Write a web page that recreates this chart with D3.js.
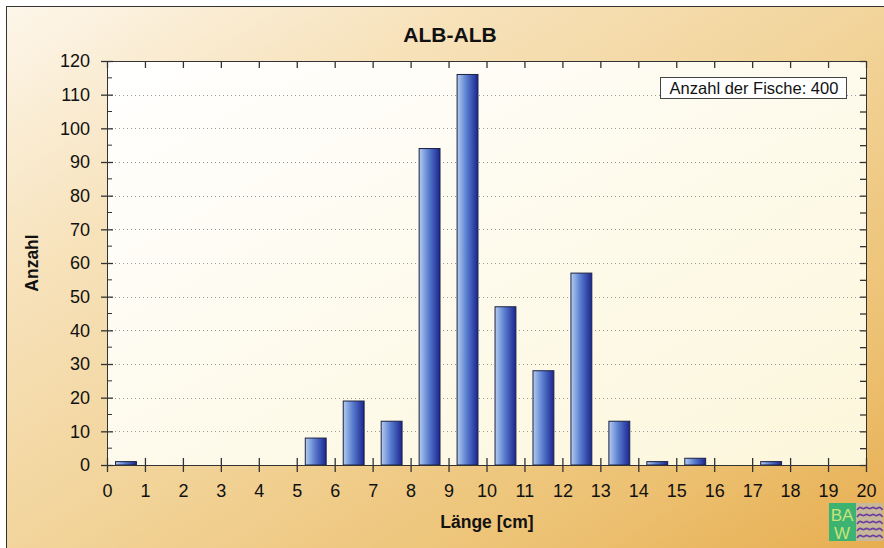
<!DOCTYPE html>
<html>
<head>
<meta charset="utf-8">
<script src="https://cdn.jsdelivr.net/npm/d3@7"></script>
<style>
body { margin: 0; background: #fff; }
svg text { font-family: "Liberation Sans", Arial, sans-serif; fill: #111; }
</style>
</head>
<body>
<div id="chart"></div>
<script>
let title = "ALB-ALB";
let lengths = [0.5, 5.5, 6.5, 7.5, 8.5, 9.5, 10.5, 11.5, 12.5, 13.5, 14.5, 15.5, 17.5];
let counts = [1, 8, 19, 13, 94, 116, 47, 28, 57, 13, 1, 2, 1];
let xTicks = d3.range(0, 21);
let yTicks = d3.range(0, 121, 10);
let legendText = "Anzahl der Fische: 400";

let width = 884, height = 548;
let plotLeft = 107, plotRight = 866, plotTop = 61, plotBottom = 465;

let svg = d3.select("#chart").append("svg")
    .attr("width", width)
    .attr("height", height);

let defs = svg.append("defs");
let bg = defs.append("linearGradient").attr("id", "bg")
    .attr("x1", "0").attr("y1", "0").attr("x2", "1").attr("y2", "1");
bg.append("stop").attr("offset", "0").attr("stop-color", "#fdf6ea");
bg.append("stop").attr("offset", "0.25").attr("stop-color", "#f7e2bb");
bg.append("stop").attr("offset", "0.5").attr("stop-color", "#f2d49a");
bg.append("stop").attr("offset", "0.8").attr("stop-color", "#ecc070");
bg.append("stop").attr("offset", "1").attr("stop-color", "#e6ab4c");

let plotBg = defs.append("linearGradient").attr("id", "plotbg")
    .attr("x1", "0").attr("y1", "0").attr("x2", "1").attr("y2", "1");
plotBg.append("stop").attr("offset", "0").attr("stop-color", "#ffffff");
plotBg.append("stop").attr("offset", "1").attr("stop-color", "#fcf6da");

let barGrad = defs.append("linearGradient").attr("id", "bar")
    .attr("x1", "0").attr("y1", "0").attr("x2", "1").attr("y2", "0");
barGrad.append("stop").attr("offset", "0").attr("stop-color", "#b4cdf0");
barGrad.append("stop").attr("offset", "0.45").attr("stop-color", "#5a7ed0");
barGrad.append("stop").attr("offset", "1").attr("stop-color", "#1a2590");

svg.append("rect")
    .attr("x", 6.5).attr("y", 6.5)
    .attr("width", width + 10).attr("height", height + 10)
    .attr("fill", "url(#bg)")
    .attr("stroke", "#333").attr("stroke-width", 1);

let x = d3.scaleLinear().domain([0, 20]).range([plotLeft, plotRight]);
let y = d3.scaleLinear().domain([0, 120]).range([plotBottom, plotTop]);

svg.append("rect")
    .attr("x", plotLeft).attr("y", plotTop)
    .attr("width", plotRight - plotLeft).attr("height", plotBottom - plotTop)
    .attr("fill", "url(#plotbg)");

// grid
svg.append("g").selectAll("line")
    .data(yTicks.filter(d => d > 0 && d < 120))
    .enter().append("line")
    .attr("x1", plotLeft).attr("x2", plotRight)
    .attr("y1", d => Math.round(y(d)) + 0.5).attr("y2", d => Math.round(y(d)) + 0.5)
    .attr("stroke", "#999").attr("stroke-dasharray", "1,3");

// bars
let bw = 0.55;
svg.append("g").selectAll("rect")
    .data(lengths)
    .enter().append("rect")
    .attr("x", d => x(d - bw / 2))
    .attr("y", (d, i) => y(counts[i]))
    .attr("width", x(bw) - x(0))
    .attr("height", (d, i) => y(0) - y(counts[i]))
    .attr("fill", "url(#bar)")
    .attr("stroke", "#1c2040").attr("stroke-width", 1);

// axes
let axisColor = "#333";
let bottomAxis = svg.append("g")
    .attr("transform", "translate(0," + plotBottom + ")")
    .call(d3.axisBottom(x).tickValues(xTicks).tickSize(7).tickPadding(12).tickSizeOuter(0));
bottomAxis.selectAll(".tick line").attr("y1", -7);
bottomAxis.selectAll("text").style("font-size", "18px");

let leftAxis = svg.append("g")
    .attr("transform", "translate(" + plotLeft + ",0)")
    .call(d3.axisLeft(y).tickValues(yTicks).tickSize(6).tickPadding(11).tickSizeOuter(0));
leftAxis.selectAll(".tick line").attr("x1", 6).attr("x2", -6);
leftAxis.selectAll("text").style("font-size", "18px");

// minor ticks on left
svg.append("g").selectAll("line")
    .data(d3.range(5, 120, 10))
    .enter().append("line")
    .attr("x1", plotLeft).attr("x2", plotLeft + 5)
    .attr("y1", d => y(d)).attr("y2", d => y(d))
    .attr("stroke", axisColor);

svg.append("g")
    .attr("transform", "translate(0," + plotTop + ")")
    .call(d3.axisTop(x).tickValues(xTicks).tickSize(-7).tickFormat("").tickSizeOuter(0));

svg.append("g")
    .attr("transform", "translate(" + plotRight + ",0)")
    .call(d3.axisRight(y).tickValues(d3.range(0, 121, 5)).tickSize(-6).tickFormat("").tickSizeOuter(0));

svg.selectAll(".domain, .tick line").attr("stroke", axisColor);
svg.selectAll(".tick line").attr("stroke-width", 1.3);

// legend box
let lg = svg.append("g");
lg.append("rect")
    .attr("x", 660.5).attr("y", 77.5)
    .attr("width", 186).attr("height", 21)
    .attr("fill", "#fff").attr("stroke", "#444");
lg.append("text")
    .attr("x", 754).attr("y", 94)
    .attr("text-anchor", "middle")
    .style("font-size", "16.5px")
    .text(legendText);

// titles
svg.append("text")
    .attr("x", 450).attr("y", 42)
    .attr("text-anchor", "middle")
    .style("font-size", "21px").style("font-weight", "bold")
    .text(title);

svg.append("text")
    .attr("x", 487).attr("y", 528)
    .attr("text-anchor", "middle")
    .style("font-size", "17.5px").style("font-weight", "bold")
    .text("Länge [cm]");

svg.append("text")
    .attr("transform", "translate(38," + ((plotTop + plotBottom) / 2) + ") rotate(-90)")
    .attr("text-anchor", "middle")
    .style("font-size", "17.5px").style("font-weight", "bold")
    .text("Anzahl");

// logo
let logo = svg.append("g").attr("transform", "translate(829,503)");
logo.append("rect").attr("width", 27).attr("height", 38).attr("fill", "#3cb371");
logo.append("rect").attr("x", 27).attr("width", 27).attr("height", 38).attr("fill", "#c8b89a");
logo.append("text").attr("x", 13).attr("y", 18).attr("text-anchor", "middle")
    .style("font-size", "17px").style("fill", "#c9e27a").text("BA");
logo.append("text").attr("x", 13).attr("y", 36).attr("text-anchor", "middle")
    .style("font-size", "17px").style("fill", "#c9e27a").text("W");
let wave = d3.line().curve(d3.curveBasis);
d3.range(5).forEach(function(k) {
    let pts = d3.range(0, 9).map(j => [28 + j * 3.2, 5 + k * 7 + (j % 2 ? -2 : 2)]);
    logo.append("path").attr("d", wave(pts))
        .attr("fill", "none").attr("stroke", "#6a3fa0").attr("stroke-width", 1.6);
});
</script>
</body>
</html>
